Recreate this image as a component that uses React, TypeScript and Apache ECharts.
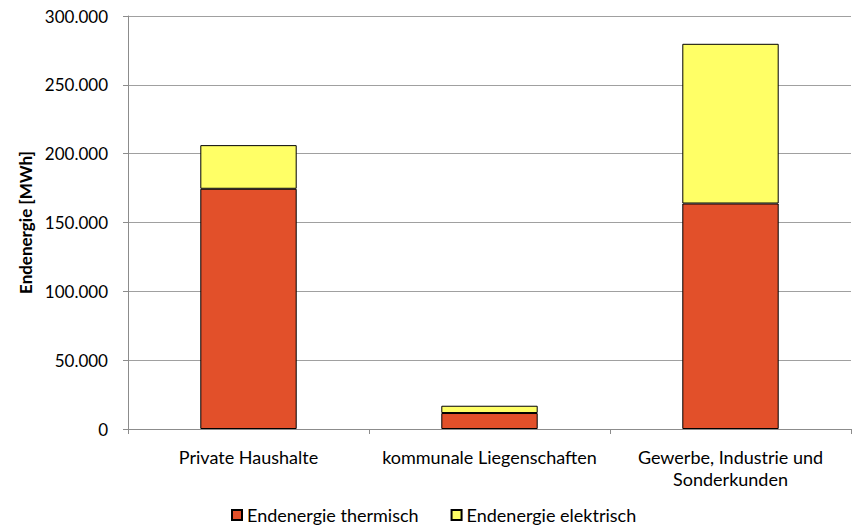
import React, { useEffect, useRef } from "react";
import * as echarts from "echarts";

const categories = ["Private Haushalte", "kommunale Liegenschaften", "Gewerbe, Industrie und\nSonderkunden"];
const thermisch = [174500, 11600, 163800];
const elektrisch = [31700, 5300, 116000];
const seriesNames = ["Endenergie thermisch", "Endenergie elektrisch"];

const FONT = "Lato, 'Open Sans', sans-serif";

export default function App() {
  const ref = useRef<HTMLDivElement>(null);

  useEffect(() => {
    if (!ref.current) return;
    const chart = echarts.init(ref.current, null, { renderer: "svg" });
    chart.setOption({
      animation: false,
      backgroundColor: "#ffffff",
      textStyle: { fontFamily: FONT, color: "#000" },
      grid: { left: 128, right: 5, top: 16, bottom: 102, containLabel: false },
      legend: {
        bottom: 2,
        left: 226,
        itemWidth: 10,
        itemHeight: 10,
        itemGap: 32,
        icon: "rect",
        textStyle: { fontFamily: FONT, fontSize: 18, color: "#000" },
        data: seriesNames,
      },
      xAxis: {
        type: "category",
        data: categories,
        axisLine: { lineStyle: { color: "#8c8c8c" } },
        axisTick: { show: true, length: 5, lineStyle: { color: "#8c8c8c" } },
        axisLabel: { fontFamily: FONT, fontSize: 18, color: "#000", margin: 17, lineHeight: 22, interval: 0 },
      },
      yAxis: {
        type: "value",
        min: 0,
        max: 300000,
        interval: 50000,
        name: "Endenergie [MWh]",
        nameLocation: "middle",
        nameGap: 92,
        nameTextStyle: { fontFamily: FONT, fontSize: 17, fontWeight: "bold", color: "#000" },
        axisLine: { show: true, lineStyle: { color: "#8c8c8c" } },
        axisTick: { show: true, length: 5, lineStyle: { color: "#8c8c8c" } },
        splitLine: { lineStyle: { color: "#a0a0a0" } },
        axisLabel: {
          fontFamily: FONT,
          fontSize: 17,
          color: "#000",
          margin: 20,
          formatter: (v: number) => (v === 0 ? "0" : v.toLocaleString("de-DE")),
        },
      },
      series: [
        {
          name: seriesNames[0],
          type: "bar",
          stack: "total",
          barWidth: "40%",
          data: thermisch,
          itemStyle: { color: "#E2502A", borderColor: "#000", borderWidth: 1 },
        },
        {
          name: seriesNames[1],
          type: "bar",
          stack: "total",
          barWidth: "40%",
          data: elektrisch,
          itemStyle: { color: "#FFFF66", borderColor: "#000", borderWidth: 1 },
        },
      ],
    });
    return () => chart.dispose();
  }, []);

  return <div ref={ref} style={{ position: "absolute", left: 0, top: 0, width: 856, height: 531 }} />;
}
